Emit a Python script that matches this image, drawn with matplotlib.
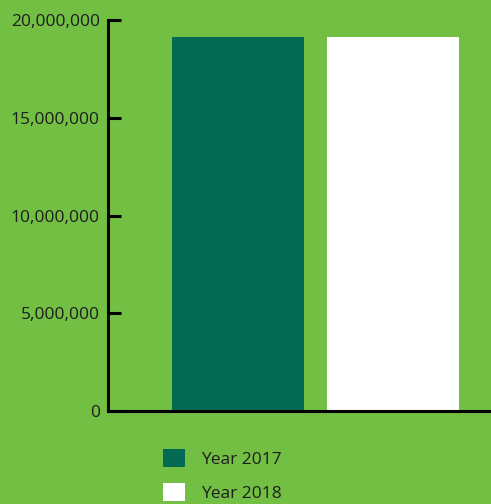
import matplotlib.pyplot as plt
from matplotlib.ticker import FuncFormatter

# data
years = ['Year 2017', 'Year 2018']
values = [19130000, 19130000]
colors = ['#026A52', '#FFFFFF']
yticks = [0, 5000000, 10000000, 15000000, 20000000]

BG = '#72BF44'
TXT = '#1E1E1E'

plt.rcParams['font.family'] = ['Open Sans', 'DejaVu Sans']

fig = plt.figure(figsize=(4.91, 5.04), dpi=100, facecolor=BG)
ax = fig.add_axes([108/491, 1 - 411/504, 1 - 108/491, (411 - 20)/504])
ax.set_facecolor(BG)

bars = ax.bar(range(len(years)), values, width=0.852, color=colors, label=years, zorder=1)

ax.set_xlim(-0.839, 1.632)
ax.set_ylim(0, 20000000)
ax.set_yticks(yticks)
ax.yaxis.set_major_formatter(FuncFormatter(lambda v, p: f'{int(v):,}'))
ax.set_xticks([])

for s in ['top', 'right']:
    ax.spines[s].set_visible(False)
for s in ['left', 'bottom']:
    ax.spines[s].set_linewidth(2.2)
    ax.spines[s].set_color('black')
    ax.spines[s].set_zorder(3)

ax.tick_params(axis='y', direction='in', length=9, width=2.2, pad=6,
               labelsize=12.5, labelcolor=TXT, color='black')

leg = ax.legend(bars, years, loc='upper left', bbox_to_anchor=(163/491, 1 - 449/504),
                bbox_transform=fig.transFigure, frameon=False, fontsize=12.5,
                handlelength=1.25, handleheight=1.25, handletextpad=0.95,
                labelspacing=0.85, borderpad=0, borderaxespad=0)
for t in leg.get_texts():
    t.set_color(TXT)

fig.savefig('out.png', dpi=100, facecolor=BG)
